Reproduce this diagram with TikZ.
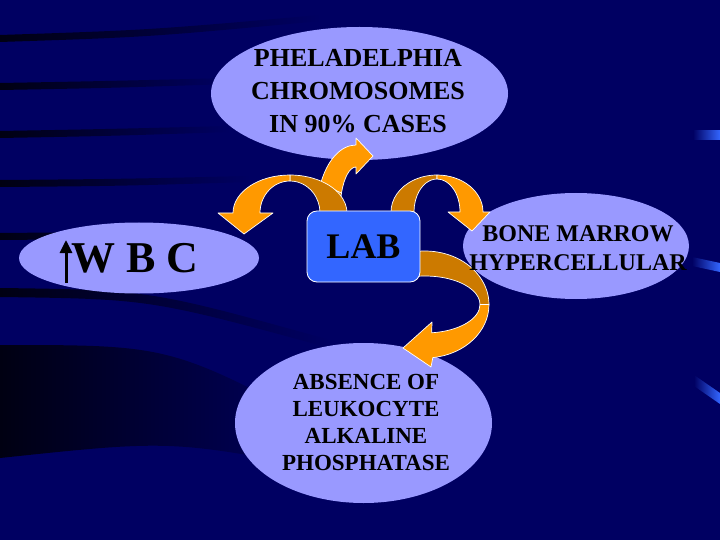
\documentclass[tikz,border=0pt]{standalone}
\usepackage{fontspec}
\setmainfont{Liberation Serif}
\usetikzlibrary{shapes.geometric,arrows.meta}
\definecolor{navy}{RGB}{0,0,98}
\definecolor{stripe}{RGB}{0,0,18}
\definecolor{lav}{RGB}{153,153,255}
\definecolor{orng}{RGB}{255,153,0}
\definecolor{dorng}{RGB}{204,122,0}
\definecolor{labblue}{RGB}{51,102,255}
% band between two concentric elliptic arcs
\newcommand\bandpath[8]{({#1+#3*cos(#7)},{#2+#4*sin(#7)}) arc[start angle=#7,end angle=#8,x radius=#3,y radius=#4] -- ({#1+#5*cos(#8)},{#2+#6*sin(#8)}) arc[start angle=#8,end angle=#7,x radius=#5,y radius=#6] -- cycle}
% band with an arrow head at its end
\newcommand\headband[9]{({#1+#3*cos(#7)},{#2+#4*sin(#7)}) arc[start angle=#7,end angle=#8,x radius=#3,y radius=#4] #9 -- ({#1+#5*cos(#8)},{#2+#6*sin(#8)}) arc[start angle=#8,end angle=#7,x radius=#5,y radius=#6] -- cycle}
\tikzset{
  blob/.style={ellipse, fill=lav, draw=none, inner sep=0pt},
  backpart/.style={fill=dorng, draw=white, line width=0.7pt, line join=round},
  frontpart/.style={fill=orng, draw=white, line width=0.7pt, line join=round},
  labbox/.style={rectangle, rounded corners=10pt, fill=labblue, draw=white, line width=0.8pt},
  txt/.style={text=black, align=center, inner sep=0pt},
  streak/.style={left color=navy, right color=labblue},
  shadowline/.style={left color=stripe, right color=navy}
}
\begin{document}
\begin{tikzpicture}[x=1pt,y=-1pt]
\useasboundingbox (0,0) rectangle (720,540);
\fill[navy] (0,0) rectangle (720,540);
% background stripes
\shade[shadowline] (0,35) .. controls (150,30) .. (320,15) -- (320,21) .. controls (150,37) .. (0,42) -- cycle;
\shade[shadowline] (0,83) .. controls (110,81) .. (230,78) -- (230,84) .. controls (110,88) .. (0,90) -- cycle;
\shade[shadowline] (0,131) .. controls (110,129) .. (230,126) -- (230,132) .. controls (110,136) .. (0,138) -- cycle;
\shade[shadowline] (0,180) .. controls (120,179) .. (250,176) -- (250,182) .. controls (120,186) .. (0,187) -- cycle;
\shade[shadowline] (0,233) .. controls (110,232) .. (230,230) -- (230,236) .. controls (110,239) .. (0,240) -- cycle;
\shade[shadowline] (0,288) .. controls (150,290) .. (330,340) -- (330,348) .. controls (150,299) .. (0,297) -- cycle;
\shade[shadowline] (0,345) .. controls (170,345) .. (330,430) -- (330,470) .. controls (170,440) .. (0,458) -- cycle;
% right streaks
\shade[streak] (693,131) -- (720,131) -- (720,140) -- (693,140) -- cycle;
\shade[streak] (692,257) -- (720,263) -- (720,272) -- (692,266) -- cycle;
\shade[streak] (694,375) -- (720,393) -- (720,404) -- (694,386) -- cycle;
% ellipses
\node[blob, minimum width=297pt, minimum height=133pt] (phil) at (359.5,93.5) {};
\node[blob, minimum width=240pt, minimum height=71pt] (wbc) at (139,258) {};
\node[blob, minimum width=226pt, minimum height=106pt] (bone) at (576,246) {};
\node[blob, minimum width=257pt, minimum height=160pt] (alp) at (363.5,423) {};
% curved arrows
\path[backpart] \bandpath{356}{212}{39}{67}{16}{45}{190}{205};
\path[frontpart] \headband{356}{212}{39}{67}{16}{45}{205}{270}{-- (356,138) -- (373,156) -- (356,174)};
\path[backpart] \bandpath{290}{213}{57}{38}{30}{32}{8}{-90};
\path[frontpart] \headband{290}{213}{57}{38}{30}{32}{-90}{-180}{-- (218,213) -- (244,234) -- (273,213)};
\path[backpart] \bandpath{437}{212}{46}{37}{23}{33}{172}{270};
\path[frontpart] \headband{437}{212}{46}{37}{23}{33}{270}{360}{-- (490,212) -- (472,231) -- (448,212)};
\path[backpart] \bandpath{425}{304.5}{64}{53.5}{55}{28.5}{-97}{0};
\path[frontpart] \headband{425}{304.5}{64}{53.5}{55}{28.5}{0}{83}{-- (431,367) -- (403,348) -- (432,322)};
% LAB box
\node[labbox, minimum width=113pt, minimum height=71pt, font={\fontsize{36}{40}\selectfont\bfseries}] (lab) at (363.5,246.5) {LAB};
% texts
\node[txt, font={\fontsize{26}{33}\selectfont\bfseries}] (philtxt) at (358,91) {PHELADELPHIA\\CHROMOSOMES\\IN 90\% CASES};
\node[txt, font={\fontsize{24}{29}\selectfont\bfseries}] (bonetxt) at (578,248.5) {BONE MARROW\\HYPERCELLULAR};
\node[txt, font={\fontsize{23}{27}\selectfont\bfseries}] (alptxt) at (366,422.7) {ABSENCE OF\\LEUKOCYTE\\ALKALINE\\PHOSPHATASE};
\node[txt, anchor=base, font={\fontsize{44}{50}\selectfont\bfseries}] (wbctxt) at (135,272) {W B C};
\coordinate (upbot) at (66,283);
\coordinate (uptop) at (66,240);
\draw[line width=3pt, -{Triangle[width=12pt,length=13pt]}] (upbot) -- (uptop);
\end{tikzpicture}
\end{document}
